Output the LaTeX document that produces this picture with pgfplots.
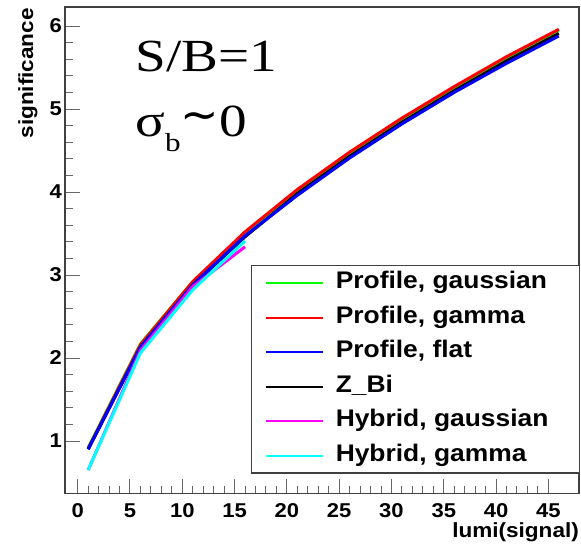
\documentclass[border=0pt]{standalone}
\usepackage{fontspec}
\usepackage{pgfplots}
\pgfplotsset{compat=1.18}
\newfontfamily\hv[FakeStretch=1.1]{Liberation Sans}
\newfontfamily\lsf[FakeStretch=1.2]{Liberation Serif}
\newfontfamily\djs{DejaVu Sans}
\definecolor{rgreen}{RGB}{0,255,0}
\definecolor{rred}{RGB}{255,0,0}
\definecolor{rblue}{RGB}{0,0,255}
\definecolor{rmag}{RGB}{255,0,255}
\definecolor{rcyan}{RGB}{0,255,255}
\begin{document}
\begin{tikzpicture}
\useasboundingbox (0,0) rectangle (581pt,544pt);
\begin{axis}[
  at={(65pt,50.7pt)}, anchor=south west,
  scale only axis, width=514pt, height=486.3pt,
  xmin=-1.214, xmax=47.93, ymin=0.370, ymax=6.229,
  xtick={0,5,...,45}, ytick={1,2,3,4,5,6},
  minor x tick num=4, minor y tick num=4,
  tick align=inside, xtick pos=left, ytick pos=left,
  major tick length=14.5pt, minor tick length=7.5pt,
  every tick/.style={black!60, line width=1pt},
  axis line style={black!75, line width=1.1pt},
  /pgf/number format/assume math mode=true,
  tick label style={font=\hv\bfseries\fontsize{20}{20}\selectfont, inner sep=0pt},
  yticklabel style={xshift=-3pt},
  xticklabel style={yshift=-10pt},
  xlabel={lumi(signal)},
  xlabel style={at={(axis description cs:1,0)}, anchor=base east, inner sep=0pt, yshift=-44pt, font=\hv\bfseries\fontsize{20.5}{20.5}\selectfont},
  ylabel={significance},
  ylabel style={at={(axis description cs:-0.0914,0.998)}, anchor=north east, inner sep=0pt, font=\hv\bfseries\fontsize{20.5}{20.5}\selectfont},
  legend cell align=left,
  legend image code/.code={\draw[#1,line width=2pt] (0pt,0pt) -- (57pt,0pt);},
  legend style={at={(axis description cs:1.002,0.4695)}, anchor=north east,
    font=\hv\bfseries\fontsize{24}{24}\selectfont,
    draw=black!75, line width=1.1pt, fill=white,
    inner xsep=13pt, inner ysep=7pt, row sep=13.5pt, column sep=12pt,
    nodes={inner sep=0pt, text height=16pt, text depth=5pt}},
]
\addplot[rgreen, line width=3pt] coordinates {(1,0.92) (6,2.17) (11,2.92) (16,3.51) (21,4.02) (26,4.47) (31,4.88) (36,5.26) (41,5.62) (46,5.95)};
\addlegendentry{Profile, gaussian}
\addplot[rred, line width=3pt] coordinates {(1,0.91) (6,2.16) (11,2.92) (16,3.52) (21,4.03) (26,4.48) (31,4.89) (36,5.27) (41,5.63) (46,5.96)};
\addlegendentry{Profile, gamma}
\addplot[black, line width=3pt, forget plot] coordinates {(1,0.90) (6,2.13) (11,2.88) (16,3.46) (21,3.98) (26,4.43) (31,4.84) (36,5.22) (41,5.58) (46,5.91)};
\addplot[rblue, line width=3pt] coordinates {(1,0.90) (6,2.13) (11,2.88) (16,3.47) (21,3.96) (26,4.41) (31,4.82) (36,5.20) (41,5.55) (46,5.88)};
\addlegendentry{Profile, flat}
\addlegendimage{black}
\addlegendentry{Z\_Bi}
\addplot[rmag, line width=3pt] coordinates {(1,0.65) (6,2.09) (11,2.86) (16,3.34)};
\addlegendentry{Hybrid, gaussian\hspace*{18pt}}
\addplot[rcyan, line width=3pt] coordinates {(1,0.65) (6,2.06) (11,2.82) (16,3.41)};
\addlegendentry{Hybrid, gamma}
\node[anchor=base west, inner sep=0pt, font=\lsf\fontsize{46}{46}\selectfont] at (axis description cs:0.1365,0.867) {S/B=1};
\node[anchor=base west, inner sep=0pt, font=\lsf\fontsize{46}{46}\selectfont] at (axis description cs:0.1365,0.7333) {σ\raisebox{-15pt}{\fontsize{26}{26}\selectfont b}\raisebox{6pt}{\djs ∼}0};
\end{axis}
\end{tikzpicture}
\end{document}
